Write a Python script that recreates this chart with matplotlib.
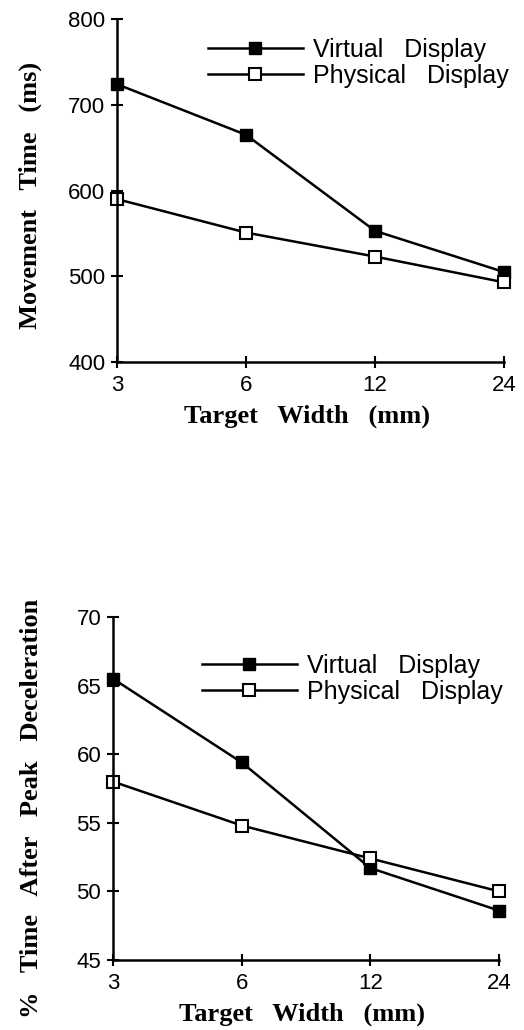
import numpy as np
import matplotlib
matplotlib.use('Agg')
import matplotlib.pyplot as plt

# target widths (mm)
widths = [3, 6, 12, 24]
width_labels = ['3', '6', '12', '24']

# movement time (ms)
mt_virtual = [724, 665, 553, 505]
mt_physical = [590, 551, 523, 493]

# % time after peak deceleration
dec_virtual = [65.5, 59.4, 51.7, 48.6]
dec_physical = [58.0, 54.8, 52.4, 50.0]

plt.rcParams['font.family'] = ['Liberation Sans', 'DejaVu Sans']
serif = {'family': 'Liberation Serif', 'weight': 'bold', 'size': 19}
TICK_FS = 16
LEG_FS = 18

fig = plt.figure(figsize=(5.24, 10.30), dpi=100)
ax1 = fig.add_axes([0.2233, 0.6485, 0.7385, 0.333])
ax2 = fig.add_axes([0.2156, 0.0680, 0.7366, 0.333])


def style(ax, yticks, ylim):
    ax.set_xscale('log', base=2)
    ax.set_xlim(3, 24)
    ax.set_xticks(widths)
    ax.set_xticklabels(width_labels)
    ax.xaxis.set_minor_locator(matplotlib.ticker.NullLocator())
    ax.set_ylim(*ylim)
    ax.set_yticks(yticks)
    for s in ['top', 'right']:
        ax.spines[s].set_visible(False)
    for s in ['left', 'bottom']:
        ax.spines[s].set_linewidth(1.8)
    ax.tick_params(axis='both', direction='inout', length=9, width=1.5,
                   labelsize=TICK_FS)
    ax.tick_params(axis='x', pad=5)
    ax.tick_params(axis='y', pad=4)


def draw(ax, v, p):
    ax.plot(widths, v, color='black', lw=1.8, marker='s', ms=8,
            mfc='black', mec='black', clip_on=False,
            label='Virtual   Display')
    ax.plot(widths, p, color='black', lw=1.8, marker='s', ms=8,
            mfc='white', mec='black', mew=1.5, clip_on=False,
            label='Physical   Display')


def legend(ax, x, y):
    ax.legend(loc='upper left', bbox_to_anchor=(x, y), frameon=False,
              fontsize=LEG_FS, handlelength=3.8, handletextpad=0.4,
              labelspacing=0.08, borderpad=0, borderaxespad=0)


draw(ax1, mt_virtual, mt_physical)
style(ax1, [400, 500, 600, 700, 800], (400, 800))
ax1.set_xlabel('Target   Width   (mm)', fontdict=serif)
ax1.set_ylabel('Movement   Time   (ms)', fontdict=serif)
ax1.xaxis.set_label_coords(0.49, -0.125)
ax1.yaxis.set_label_coords(-0.194, 0.487)
legend(ax1, 0.235, 0.945)

draw(ax2, dec_virtual, dec_physical)
style(ax2, [45, 50, 55, 60, 65, 70], (45, 70))
ax2.set_xlabel('Target   Width   (mm)', fontdict=serif)
ax2.set_ylabel('%   Time   After   Peak   Deceleration', fontdict=serif)
ax2.xaxis.set_label_coords(0.49, -0.125)
ax2.yaxis.set_label_coords(-0.181, 0.443)
legend(ax2, 0.23, 0.893)

fig.savefig('out.png', dpi=100)
